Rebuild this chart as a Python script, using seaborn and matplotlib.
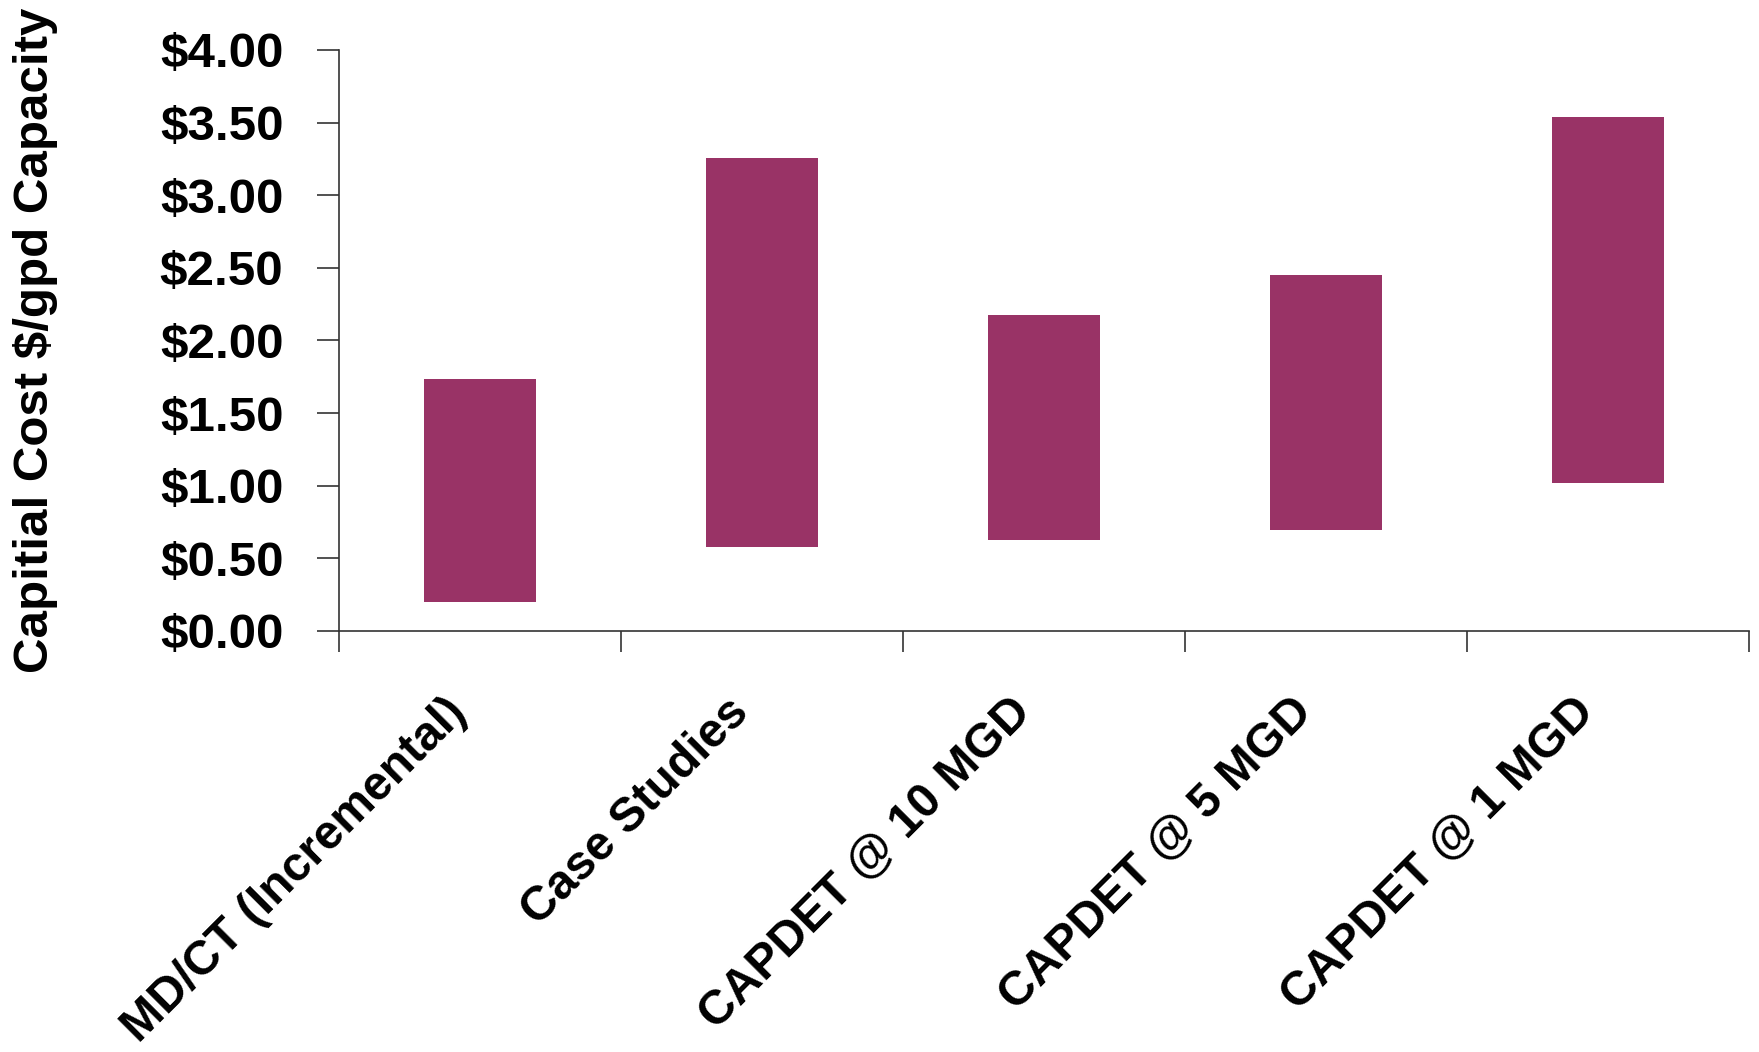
import matplotlib
matplotlib.use("Agg")
import matplotlib.pyplot as plt
import matplotlib.transforms as mtransforms
import numpy as np
import pandas as pd
import seaborn as sns

# Capital cost ranges ($/gpd capacity) per estimate source
categories = ["MD/CT (Incremental)", "Case Studies", "CAPDET @ 10 MGD",
              "CAPDET @ 5 MGD", "CAPDET @ 1 MGD"]
low_cost = [0.20, 0.575, 0.625, 0.695, 1.02]
high_cost = [1.735, 3.255, 2.175, 2.45, 3.54]
y_ticks = [0.0, 0.5, 1.0, 1.5, 2.0, 2.5, 3.0, 3.5, 4.0]
y_tick_labels = ["$0.00", "$0.50", "$1.00", "$1.50", "$2.00",
                 "$2.50", "$3.00", "$3.50", "$4.00"]

df = pd.DataFrame({
    "source": categories,
    "low": low_cost,
    "span": np.array(high_cost) - np.array(low_cost),
})

sns.set_theme(style="white")
plt.rcParams["font.family"] = ["Liberation Sans", "DejaVu Sans"]
plt.rcParams["font.weight"] = "bold"

fig = plt.figure(figsize=(17.59, 10.52), dpi=100)
ax = fig.add_axes([0.1927, 0.4002, 0.8016, 0.5523])

# Floating bars: each bar starts at the low estimate and spans to the high one
sns.barplot(data=df, x="source", y="span", order=categories, ax=ax,
            color="#993366", saturation=1, width=0.4,
            bottom=df["low"].to_numpy(), linewidth=0, edgecolor="none")

ax.set_xlim(-0.5, len(categories) - 0.5)
ax.set_ylim(0, 4)
ax.set_yticks(y_ticks)
ax.set_yticklabels(y_tick_labels, fontsize=35.5, fontweight="bold", color="black")

# Category boundary ticks on the x axis
ax.set_xticks(np.arange(len(categories)))
ax.set_xticks(np.arange(-0.5, len(categories), 1.0), minor=True)
ax.tick_params(axis="x", which="major", length=0, pad=42, bottom=True)
ax.tick_params(axis="x", which="minor", length=15, width=1.2,
               direction="out", color="#333333", bottom=True)
ax.tick_params(axis="y", which="major", length=16, width=1.2,
               direction="out", color="#333333", pad=24, left=True)

offset = mtransforms.ScaledTranslation(-36 / 100, 0, fig.dpi_scale_trans)
ax.set_xticklabels(categories, fontsize=34.5, fontweight="bold",
                   rotation=45, ha="right", va="top",
                   rotation_mode="anchor", color="black")
for lbl in ax.get_xticklabels():
    lbl.set_transform(lbl.get_transform() + offset)

ax.set_xlabel("")
ax.set_ylabel("Capitial Cost $/gpd Capacity", fontsize=35.5,
              fontweight="bold", color="black")
ax.yaxis.set_label_coords(-0.199, 0.5)

for side in ["top", "right"]:
    ax.spines[side].set_visible(False)
for side in ["left", "bottom"]:
    ax.spines[side].set_color("#333333")
    ax.spines[side].set_linewidth(1.2)

fig.savefig("out.png", dpi=100, facecolor="white")
